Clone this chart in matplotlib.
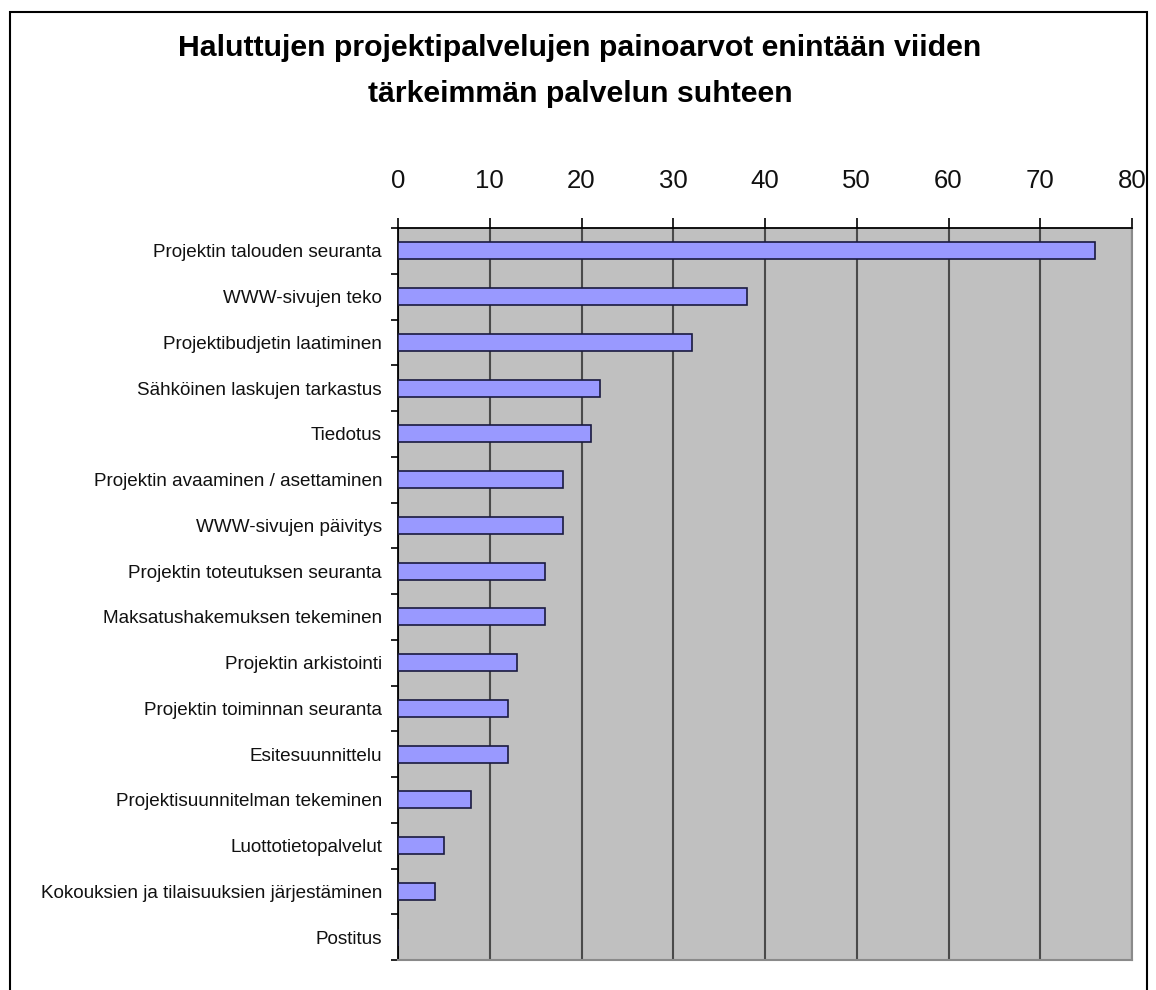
import matplotlib
matplotlib.use("Agg")
import matplotlib.pyplot as plt
from matplotlib.patches import Rectangle

categories = [
    "Projektin talouden seuranta",
    "WWW-sivujen teko",
    "Projektibudjetin laatiminen",
    "Sähköinen laskujen tarkastus",
    "Tiedotus",
    "Projektin avaaminen / asettaminen",
    "WWW-sivujen päivitys",
    "Projektin toteutuksen seuranta",
    "Maksatushakemuksen tekeminen",
    "Projektin arkistointi",
    "Projektin toiminnan seuranta",
    "Esitesuunnittelu",
    "Projektisuunnitelman tekeminen",
    "Luottotietopalvelut",
    "Kokouksien ja tilaisuuksien järjestäminen",
    "Postitus",
]
values = [76, 38, 32, 22, 21, 18, 18, 16, 16, 13, 12, 12, 8, 5, 4, 0]
xticks = [0, 10, 20, 30, 40, 50, 60, 70, 80]
title_lines = ["Haluttujen projektipalvelujen painoarvot enintään viiden",
               "tärkeimmän palvelun suhteen"]

plt.rcParams['font.family'] = ['Liberation Sans', 'DejaVu Sans']

W, H = 1156, 990
fig = plt.figure(figsize=(W / 100, H / 100), dpi=100)
fig.patch.set_facecolor('white')

ax = fig.add_axes([398 / W, 1 - 960 / H, (1132 - 398) / W, (960 - 228) / H])
ax.set_facecolor('#C0C0C0')

n = len(categories)
ypos = list(range(n))
ax.barh(ypos, values, height=0.37, color='#9999FF', edgecolor='#1a1a40', linewidth=1.2, zorder=3)

ax.set_xlim(0, 80)
ax.set_ylim(n - 0.5, -0.5)
ax.set_xticks(xticks)
ax.set_xticklabels([str(t) for t in xticks], fontsize=18.5, color='#111111')
ax.xaxis.tick_top()
ax.tick_params(axis='x', direction='out', length=7, width=1.2, pad=18)
ax.xaxis.grid(True, color='#4a4a4a', linewidth=1.5, zorder=1)
ax.set_axisbelow(True)

# category labels at centers, ticks at boundaries
ax.set_yticks(ypos)
ax.set_yticklabels(categories, fontsize=13.6, color='#111111')
ax.tick_params(axis='y', which='major', length=0, pad=11.5)
ax.set_yticks([i - 0.5 for i in range(n + 1)], minor=True)
ax.tick_params(axis='y', which='minor', direction='out', length=5, width=1.2, colors='black')

for s in ['top', 'left']:
    ax.spines[s].set_color('black')
    ax.spines[s].set_linewidth(1.3)
for s in ['right', 'bottom']:
    ax.spines[s].set_color('#8a8a8a')
    ax.spines[s].set_linewidth(1.5)

for line, yb in zip(title_lines, [56, 102]):
    fig.text(580 / W, 1 - yb / H, line, ha='center', va='baseline', fontsize=21.8,
             fontweight='bold')

# outer chart border (bottom edge outside the image)
fig.add_artist(Rectangle((10 / W, -0.05), (1147 - 10) / W, (1 - 12 / H) + 0.05,
                         transform=fig.transFigure, fill=False, edgecolor='black',
                         linewidth=1.5))

fig.savefig('out.png', dpi=100, facecolor='white')
